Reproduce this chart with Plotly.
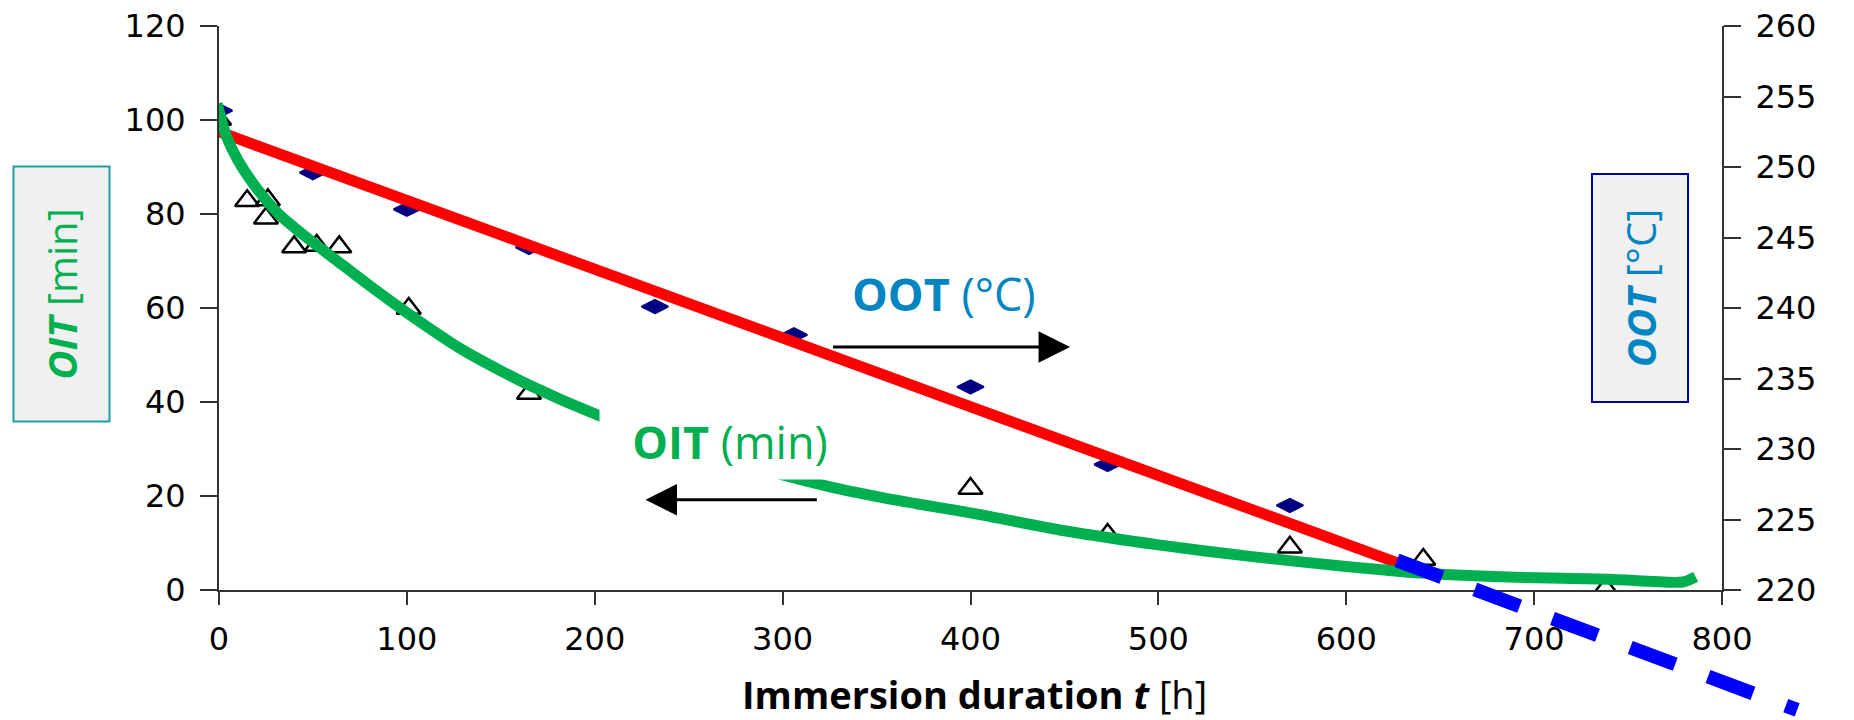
import plotly.graph_objects as go

# ---------------- data ----------------
oot_t = [0, 50, 100, 165, 232, 306, 400, 473, 570]
oot_val = [254.0, 249.6, 247.0, 244.3, 240.1, 238.1, 234.4, 228.9, 226.0]

oit_t = [0, 15, 26, 25, 40, 52, 64, 101, 165, 400, 473, 570, 641, 738]
oit_val = [100.1, 82.8, 83.0, 79.1, 73.0, 73.3, 73.0, 59.9, 41.8, 21.6, 11.8, 9.1, 6.5, 0.3]

oot_fit_t = [0, 636]
oot_fit_val = [252.5, 221.5]

oot_extrap_t = [627, 840]
oot_extrap_val = [222.1, 211.5]

oit_fit_t = [-1, 4, 10, 20, 31, 46, 62, 80, 100, 130, 165, 203, 250, 290, 327,
             362, 400, 450, 500, 550, 600, 640, 690, 740, 779, 786]
oit_fit_val = [103.5, 96.5, 91.5, 85.5, 80.3, 75.2, 70.3, 64.8, 59.0, 51.0, 43.6, 37.0,
               30.5, 25.6, 21.8, 19.0, 16.4, 12.6, 9.6, 7.1, 5.0, 3.6, 2.7, 2.3, 1.7, 2.8]

x_ticks = [0, 100, 200, 300, 400, 500, 600, 700, 800]
oit_ticks = [0, 20, 40, 60, 80, 100, 120]
oot_ticks = [220, 225, 230, 235, 240, 245, 250, 255, 260]

# arrow annotations (data units)
oot_arrow_tail = (326, 51.7)
oot_arrow_tip = (453, 51.7)
oit_arrow_tail = (319, 19.2)
oit_arrow_tip = (227, 19.2)

# ---------------- layout geometry ----------------
W, H = 1854, 720
PL, PR, PT, PB = 219, 1722, 26, 590   # plot box in pixels
xd = [PL / W, PR / W]
yd = [1 - PB / H, 1 - PT / H]

X_MAX = 800
px_per_deg = (PB - PT) / 40.0

AX = "#333333"
TICKFONT = dict(family="DejaVu Sans", size=32, color="#000000")
GREEN = "#00B050"
OOTBLUE = "#0085C3"

fig = go.Figure()

fig.add_trace(go.Scatter(
    x=oit_t, y=oit_val, mode="markers", xaxis="x", yaxis="y",
    marker=dict(symbol="triangle-up-open", size=21, color="#000000",
                line=dict(width=2.5, color="#000000")),
    showlegend=False, hoverinfo="skip"))

fig.add_trace(go.Scatter(
    x=oot_t, y=oot_val, mode="markers", xaxis="x", yaxis="y2",
    marker=dict(symbol="diamond-wide", size=19, color="#000080",
                line=dict(width=2, color="#000080")),
    showlegend=False, hoverinfo="skip"))

fig.add_trace(go.Scatter(
    x=oot_fit_t, y=oot_fit_val, mode="lines", xaxis="x", yaxis="y2",
    line=dict(color="#FF0000", width=11),
    showlegend=False, hoverinfo="skip"))

# OIT fit on an invisible overlay of the OIT axis so it is drawn above the red fit
fig.add_trace(go.Scatter(
    x=oit_fit_t, y=oit_fit_val, mode="lines", xaxis="x", yaxis="y5",
    line=dict(color=GREEN, width=11, shape="spline", smoothing=0.7),
    showlegend=False, hoverinfo="skip"))

# extrapolation drawn on an invisible overlay subplot with identical scales
# but a domain reaching the figure edge (so it can run past the axes)
fig.add_trace(go.Scatter(
    x=oot_extrap_t, y=oot_extrap_val, mode="lines", xaxis="x3", yaxis="y3",
    line=dict(color="#0000FF", width=14, dash="48px,35px"),
    showlegend=False, hoverinfo="skip"))

x3_max = X_MAX * (W - PL) / (PR - PL)
y3_min = 220 - (H - PB) / px_per_deg

axis_common = dict(showgrid=False, zeroline=False, showline=True, linecolor=AX,
                   linewidth=2, tickcolor=AX, tickwidth=2, tickfont=TICKFONT,
                   ticks="outside", automargin=False)

fig.update_layout(
    width=W, height=H, autosize=False,
    margin=dict(l=0, r=0, t=0, b=0, pad=0, autoexpand=False),
    paper_bgcolor="white", plot_bgcolor="rgba(0,0,0,0)",
    hovermode=False, showlegend=False,
    xaxis=dict(domain=xd, range=[0, X_MAX], tickvals=x_ticks, ticklen=13,
               anchor="y", ticklabelstandoff=7, **axis_common),
    yaxis=dict(domain=yd, range=[0, 120], tickvals=oit_ticks, ticklen=17,
               anchor="x", ticklabelstandoff=8, **axis_common),
    yaxis2=dict(range=[220, 260], tickvals=oot_ticks, ticklen=17, overlaying="y",
                side="right", anchor="x", ticklabelstandoff=8, **axis_common),
    yaxis4=dict(range=[220, 260], tickvals=oot_ticks, ticklen=15, overlaying="y",
                side="right", anchor="x", showgrid=False, zeroline=False,
                showline=False, ticks="inside", tickcolor=AX, tickwidth=2,
                showticklabels=False, automargin=False),
    yaxis5=dict(range=[0, 120], overlaying="y", anchor="x", visible=False,
                automargin=False),
    xaxis3=dict(domain=[PL / W, 1], range=[0, x3_max], visible=False, anchor="y3",
                fixedrange=True, automargin=False),
    yaxis3=dict(domain=[0, yd[1]], range=[y3_min, 260], visible=False, anchor="x3",
                fixedrange=True, automargin=False),
)

annotations = []
# x-axis title
annotations.append(dict(
    xref="paper", yref="paper", x=974 / W, y=1 - 694 / H, xanchor="center",
    yanchor="middle", showarrow=False, borderpad=0,
    text="<b>Immersion duration </b><b><i>t</i></b> [h]",
    font=dict(family="Open Sans", size=38, color="#000000")))

# left axis title box
annotations.append(dict(
    xref="paper", yref="paper", x=61 / W, y=1 - 294.5 / H, xanchor="center",
    yanchor="middle", showarrow=False, textangle=-90,
    text="<b><i>OIT</i></b> [min]",
    font=dict(family="Open Sans", size=40, color=GREEN),
    bgcolor="#F0F0F0", bordercolor="#1E9E9E", borderwidth=2, borderpad=0,
    width=253, height=94))

# right axis title box
annotations.append(dict(
    xref="paper", yref="paper", x=1640 / W, y=1 - 288 / H, xanchor="center",
    yanchor="middle", showarrow=False, textangle=-90,
    text="<b><i>OOT</i></b> [°C]",
    font=dict(family="Open Sans", size=40, color=OOTBLUE),
    bgcolor="#F0F0F0", bordercolor="#0000A0", borderwidth=2, borderpad=0,
    width=226, height=94))

# in-plot labels
annotations.append(dict(
    xref="paper", yref="paper", x=944 / W, y=1 - 293 / H, xanchor="center",
    yanchor="middle", showarrow=False, text="<b>OOT</b> (°C)",
    font=dict(family="Open Sans", size=45, color=OOTBLUE)))

annotations.append(dict(
    xref="paper", yref="paper", x=730 / W, y=1 - 441 / H, xanchor="center",
    yanchor="middle", showarrow=False, text="<b>OIT</b> (min)",
    font=dict(family="Open Sans", size=45, color=GREEN),
    bgcolor="white", borderpad=0, width=260, height=76))

# arrows
for tail, tip in [(oot_arrow_tail, oot_arrow_tip), (oit_arrow_tail, oit_arrow_tip)]:
    annotations.append(dict(
        xref="x", yref="y", axref="x", ayref="y",
        x=tip[0], y=tip[1], ax=tail[0], ay=tail[1], text="",
        showarrow=True, arrowhead=2, arrowwidth=3, arrowsize=2.1,
        arrowcolor="#000000", standoff=0, startstandoff=0))

fig.update_layout(annotations=annotations)

fig.write_html("out.html",
               config={"displayModeBar": False, "staticPlot": True, "responsive": False},
               post_script="document.body.style.margin='0';")
